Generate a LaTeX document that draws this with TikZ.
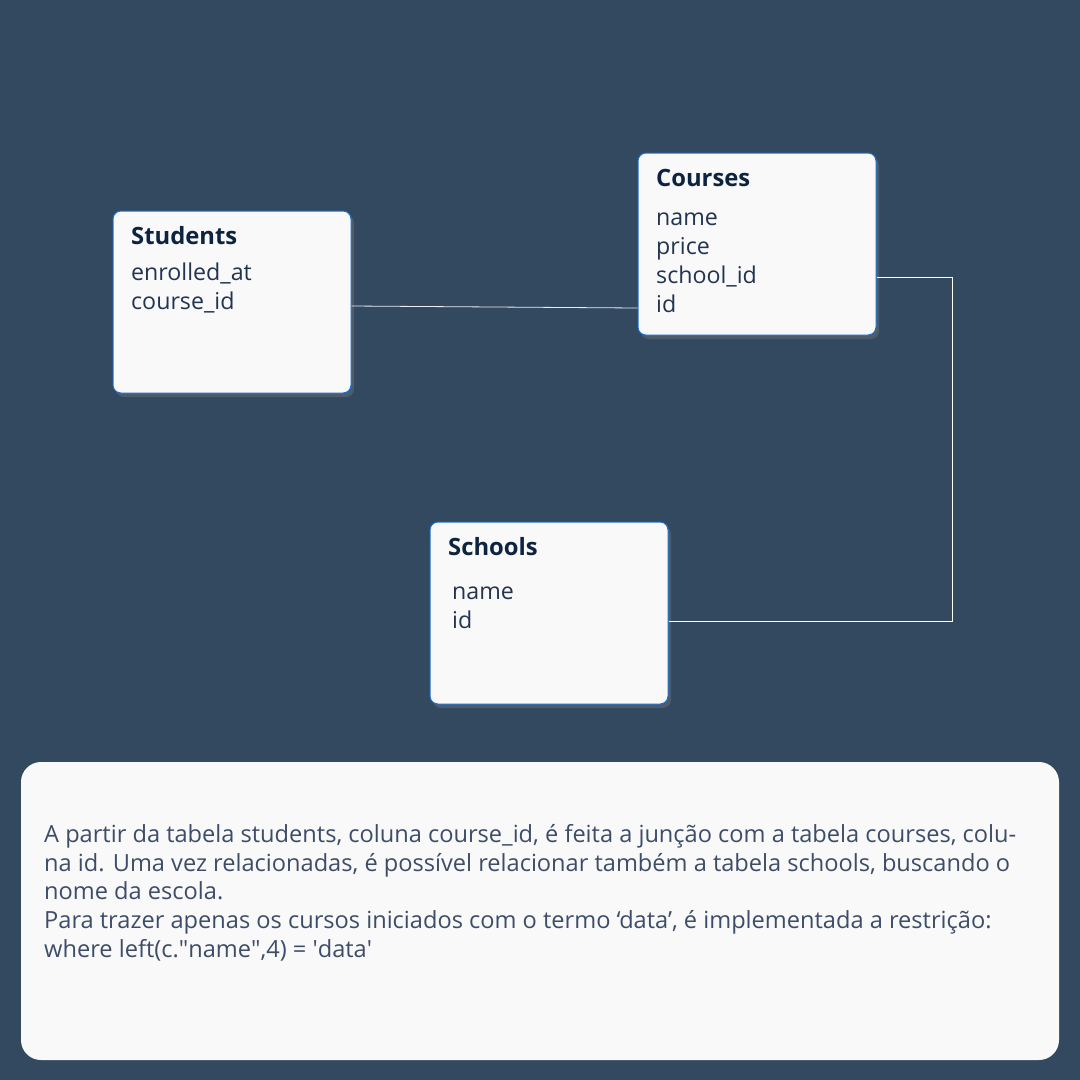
\documentclass[tikz,border=0pt]{standalone}
\usepackage{fontspec}
\setmainfont{Open Sans}
\usetikzlibrary{positioning, shadows}
\definecolor{bgblue}{HTML}{324960}
\definecolor{boxfill}{HTML}{F9F9FA}
\definecolor{boxline}{HTML}{1E6FD0}
\definecolor{titlecol}{HTML}{0D2440}
\definecolor{fieldcol}{HTML}{233450}
\definecolor{notecol}{HTML}{3D4D68}
\tikzset{
  tablebox/.style={draw=boxline, line width=1pt, fill=boxfill, rounded corners=8pt,
    minimum width=238pt, minimum height=182pt, inner sep=0pt,
    drop shadow={shadow xshift=3pt, shadow yshift=-4pt, opacity=0.35}},
  tabletitle/.style={anchor=base west, inner sep=0pt, text=titlecol,
    font=\fontsize{23.8}{28}\selectfont\bfseries},
  field/.style={anchor=base west, inner sep=0pt, text=fieldcol,
    font=\fontsize{23.2}{28}\selectfont},
  link/.style={draw=white, line width=0.8pt},
}
\begin{document}
\begin{tikzpicture}[x=1pt,y=-1pt]
  \fill[bgblue] (0,0) rectangle (1080,1080);
  \useasboundingbox (0,0) rectangle (1080,1080);

  % students
  \node[tablebox] (students) at (232,302) {};
  \node[tabletitle] (stitle) at (131,244) {Students};
  \node[field] (senrol) at (131,280) {enrolled\_at};
  \node[field] (scourse) at (131,309) {course\_id};

  % courses
  \node[tablebox] (courses) at (757,244) {};
  \node[tabletitle] (ctitle) at (656,186) {Courses};
  \node[field] (cname) at (656,225) {name};
  \node[field] (cprice) at (656,254) {price};
  \node[field] (cschool) at (656,283) {school\_id};
  \node[field] (cid) at (656,312) {id};

  % schools
  \node[tablebox] (schools) at (549,613) {};
  \node[tabletitle] (sctitle) at (448,555) {Schools};
  \node[field] (scname) at (452,599) {name};
  \node[field] (scid) at (452,628) {id};

  \coordinate (turn) at (952,277);
  \draw[link, draw=white!85!gray] (students.east |- 0,306) -- (courses.west |- 0,308);
  \draw[link] (courses.east |- turn) -- (turn) -- (turn |- 0,621) -- (schools.east |- 0,621);

  % note
  \node[fill=boxfill, rounded corners=20pt, minimum width=1038pt, minimum height=298pt,
    inner sep=0pt] (note) at (540,911) {};
  \node[anchor=north west, inner sep=0pt, align=left, text=notecol,
    font=\fontsize{23.6}{28.8}\selectfont] (notetext) at (44,824) {%
    A partir da tabela students, coluna course\_id, é feita a junção com a tabela courses, colu-\\
    na id. Uma vez relacionadas, é possível relacionar também a tabela schools, buscando o\\
    nome da escola.\\
    Para trazer apenas os cursos iniciados com o termo ‘data’, é implementada a restrição:\\
    where left(c.\textquotedbl name\textquotedbl,4) = \textquotesingle data\textquotesingle};
\end{tikzpicture}
\end{document}
